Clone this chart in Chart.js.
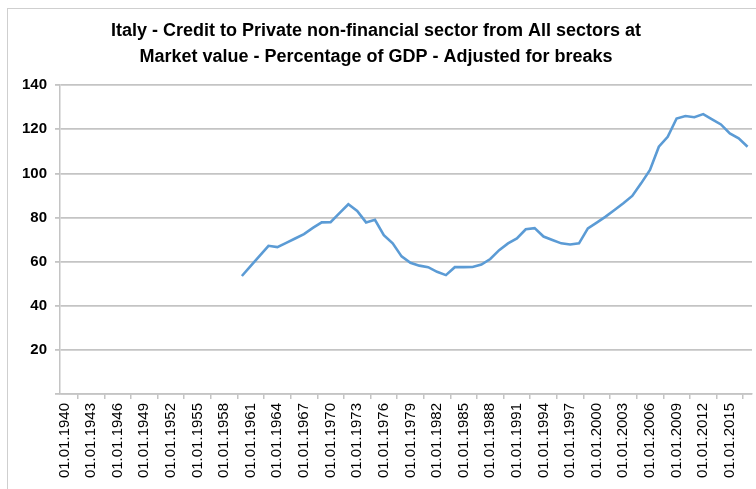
<!DOCTYPE html>
<html>
<head>
<meta charset="utf-8">
<script src="https://cdn.jsdelivr.net/npm/chart.js@4/dist/chart.umd.min.js"></script>
<style>
  html, body { margin: 0; padding: 0; background: #fff; }
  #wrap { position: relative; width: 756px; height: 489px; overflow: hidden; }
  #frame { position: absolute; left: 7px; top: 8px; width: 820px; height: 560px;
           border: 1.5px solid #cfcfcf; box-sizing: border-box; }
  canvas { position: absolute; left: 0; top: 0; }
</style>
</head>
<body>
<div id="wrap">
  <div id="frame"></div>
  <canvas id="c" width="756" height="489"></canvas>
</div>
<script>
// Years on the category axis (one category per year)
const years = [];
for (let y = 1940; y <= 2017; y++) years.push(y);
const categories = years.map(y => '01.01.' + y);

// Credit to private non-financial sector, % of GDP, annual from 1960
const firstYear = 1960;
const creditPctGdp = [
  53.5, 58.1, 62.6, 67.2, 66.6, 68.5, 70.5, 72.5, 75.3, 77.8,   // 1960-1969
  77.9, 82.0, 86.0, 83.0, 77.8, 79.0, 72.0, 68.3, 62.4, 59.5,   // 1970-1979
  58.2, 57.5, 55.4, 53.9, 57.5, 57.5, 57.6, 58.7, 61.2, 65.2,   // 1980-1989
  68.3, 70.5, 74.7, 75.2, 71.4, 69.8, 68.3, 67.8, 68.3, 75.1,   // 1990-1999
  77.7, 80.4, 83.4, 86.5, 89.8, 95.5, 101.6, 112.1, 116.6, 124.9, // 2000-2009
  126.0, 125.5, 126.9, 124.5, 122.2, 118.1, 115.9, 112.1         // 2010-2017
];
const yTicks = [0, 20, 40, 60, 80, 100, 120, 140];

const series = years.map(y => {
  const i = y - firstYear;
  return (i >= 0 && i < creditPctGdp.length) ? creditPctGdp[i] : null;
});

const gridGray = '#c4c4c4';

new Chart(document.getElementById('c'), {
  type: 'line',
  data: {
    labels: categories,
    datasets: [{
      data: series,
      borderColor: '#5b9bd5',
      borderWidth: 2.6,
      pointRadius: 0,
      tension: 0,
      spanGaps: false
    }]
  },
  options: {
    responsive: false,
    animation: false,
    layout: { padding: { left: 0, right: 4, top: 0, bottom: 0 } },
    plugins: {
      legend: { display: false },
      tooltip: { enabled: false },
      title: {
        display: true,
        text: ['Italy - Credit to Private non-financial sector from All sectors at',
               'Market value - Percentage of GDP - Adjusted for breaks'],
        color: '#000',
        font: { family: '"Liberation Sans Narrow", "Arial Narrow", "Liberation Sans", sans-serif',
                size: 18, weight: 'bold', lineHeight: 1.45 },
        padding: { top: 18, bottom: 15 }
      }
    },
    scales: {
      x: {
        type: 'category',
        offset: true,
        border: { display: true, color: gridGray, width: 1.5 },
        grid: {
          offset: true,
          drawOnChartArea: false,
          drawTicks: true,
          tickLength: 5,
          color: gridGray,
          lineWidth: 1.5
        },
        ticks: {
          autoSkip: false,
          minRotation: 90,
          maxRotation: 90,
          padding: 4,
          color: '#000',
          font: { family: '"Liberation Sans", Arial, sans-serif', size: 15 },
          callback: function (val, idx) {
            return idx % 3 === 0 ? this.getLabelForValue(val) : null;
          }
        },
        afterFit: s => { s.height = 95; }
      },
      y: {
        min: 0,
        max: 140,
        border: { display: true, color: gridGray, width: 1.5 },
        grid: { color: gridGray, lineWidth: 1.8, tickLength: 5 },
        afterBuildTicks: s => { s.ticks = yTicks.map(v => ({ value: v })); },
        ticks: {
          padding: 8,
          color: '#000',
          font: { family: '"Liberation Sans", Arial, sans-serif', size: 15, weight: 'bold' },
          callback: v => (v === 0 ? '' : String(v))
        },
        afterFit: s => { s.width = 60; }
      }
    }
  }
});
</script>
</body>
</html>
